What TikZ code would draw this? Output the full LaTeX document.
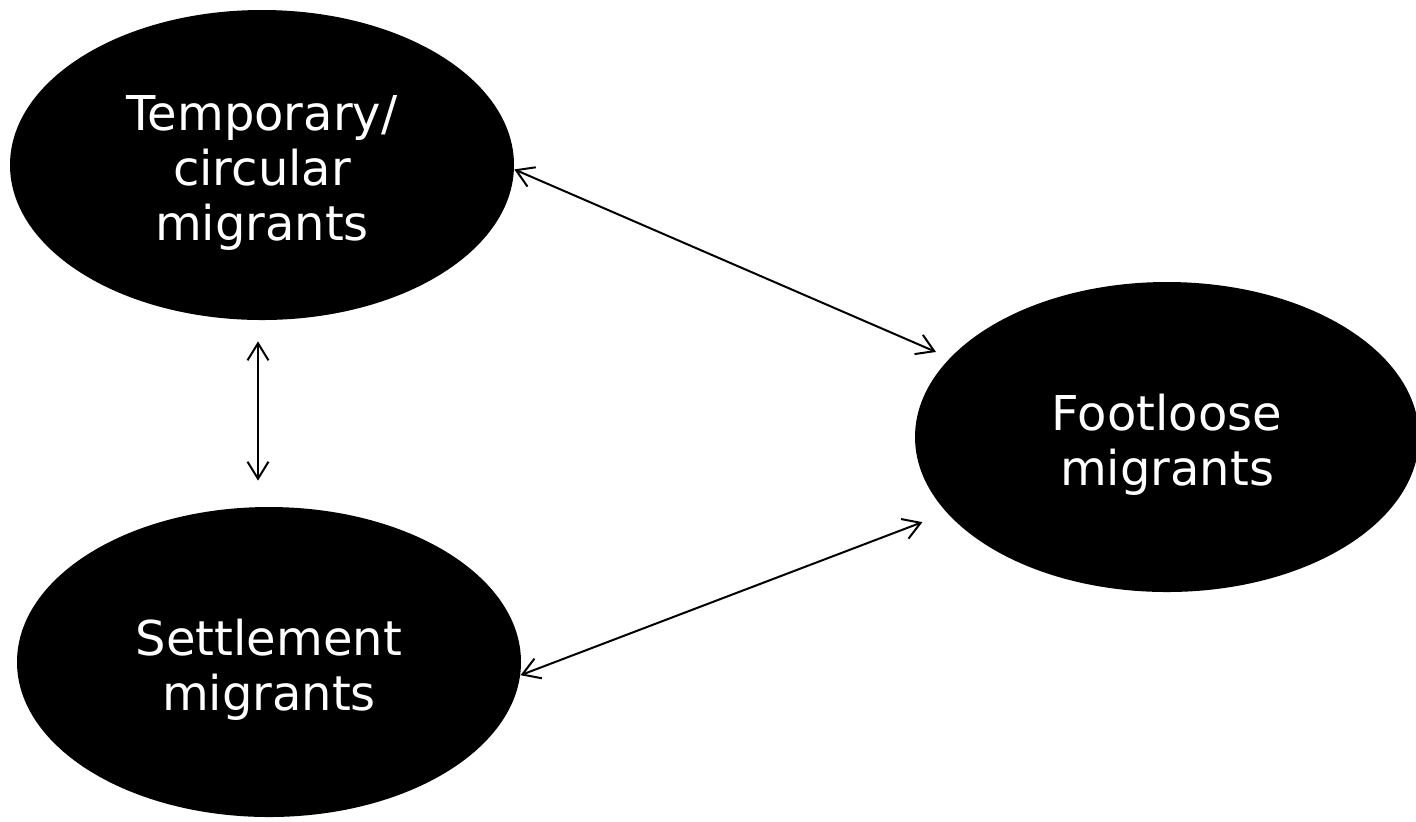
\documentclass[tikz,border=0pt]{standalone}
\usepackage{fontspec}
\setmainfont{DejaVu Sans}
\usetikzlibrary{arrows.meta,shapes.geometric}
\begin{document}
\begin{tikzpicture}[
        x=0.5pt, y=-0.5pt,
        >={Straight Barb[length=8.5pt,width=10.5pt]},
        font=\fontsize{24}{27.5}\selectfont,
        group/.style = {
            ellipse, fill=black, inner sep=0pt,
            minimum width=252pt, minimum height=155pt,
            label={[text=white, align=center, yshift=-4pt]center:#1}
        },
        link/.style = {<->, line width=1pt}
    ]
        \useasboundingbox (0,0) rectangle (1416,821);

        \node[group={Temporary/\\circular\\migrants}] (temp) at ( 262,165) {};
        \node[group={Footloose\\migrants}]            (foot) at (1167,437) {};
        \node[group={Settlement\\migrants}]         (settle) at ( 269,662) {};

        \draw[link, shorten >=7.5pt] (temp.-1) -- (foot.160);
        \draw[link] ([xshift=-2pt,yshift=-10.5pt]temp.south) -- ([xshift=-5.5pt,yshift=13pt]settle.north);
        \draw[link, shorten >=13pt] (settle.-3) -- (foot.199);
    \end{tikzpicture}
\end{document}
